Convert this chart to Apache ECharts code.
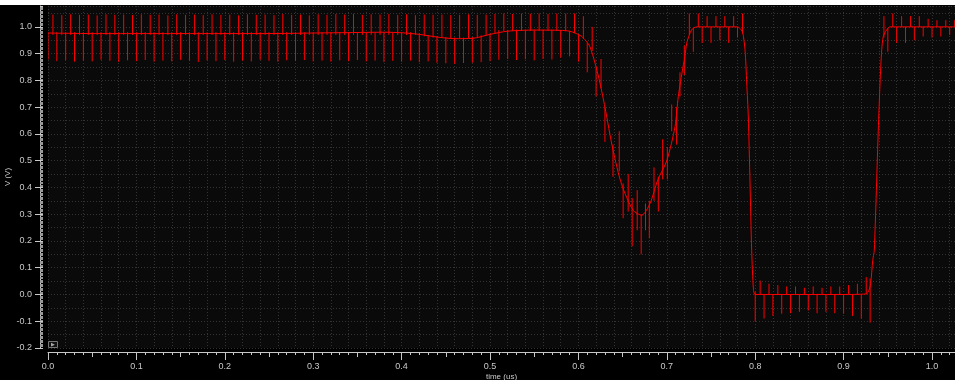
<!DOCTYPE html>
<html>
<head>
<meta charset="utf-8">
<script src="https://cdn.jsdelivr.net/npm/echarts@6/dist/echarts.min.js"></script>
<style>
html,body{margin:0;padding:0;background:#000;}
#chart{width:955px;height:380px;}
</style>
</head>
<body>
<div id="chart"></div>
<script>
// ---- data ----
const xTickLabels = ['0.0','0.1','0.2','0.3','0.4','0.5','0.6','0.7','0.8','0.9','1.0'];
const yTickLabels = ['-0.2','-0.1','0.0','0.1','0.2','0.3','0.4','0.5','0.6','0.7','0.8','0.9','1.0'];

// underlying waveform (time in us, volts)
const baseT = [0.000,0.050,0.100,0.150,0.200,0.250,0.300,0.350,0.380,0.400,0.420,0.440,0.460,0.480,0.500,0.520,0.550,0.580,0.590,0.596,0.602,0.6075,0.613,0.6188,0.6244,0.630,0.6391,0.649,0.6618,0.6716,0.681,0.690,0.700,0.7093,0.713,0.7183,0.7206,0.7225,0.728,0.7338,0.760,0.780,0.784,0.786,0.7885,0.7904,0.7922,0.7941,0.796,0.798,0.800,0.850,0.900,0.925,0.928,0.9306,0.9329,0.9347,0.9392,0.9412,0.9431,0.9449,0.9487,0.9525,1.000,1.026];
const baseV = [0.977,0.975,0.975,0.975,0.975,0.975,0.977,0.979,0.980,0.978,0.972,0.962,0.956,0.957,0.972,0.984,0.988,0.987,0.984,0.977,0.968,0.952,0.926,0.865,0.790,0.700,0.540,0.410,0.315,0.296,0.340,0.430,0.500,0.627,0.740,0.850,0.889,0.939,0.989,1.000,1.000,1.000,0.990,0.977,0.914,0.790,0.664,0.420,0.165,0.020,0.000,0.000,0.000,0.002,0.010,0.040,0.127,0.165,0.614,0.790,0.914,0.964,0.989,1.000,1.000,1.000];

// downward glitches: [time, low, high]
const downSpikes = [
[0.00,0.878,0.98],[0.01,0.872,0.98],[0.02,0.876,0.98],[0.03,0.870,0.98],[0.04,0.874,0.98],[0.05,0.871,0.98],[0.06,0.877,0.98],[0.07,0.873,0.98],[0.08,0.869,0.98],[0.09,0.875,0.98],
[0.10,0.872,0.98],[0.11,0.876,0.98],[0.12,0.870,0.98],[0.13,0.874,0.98],[0.14,0.871,0.98],[0.15,0.877,0.98],[0.16,0.873,0.98],[0.17,0.869,0.98],[0.18,0.875,0.98],[0.19,0.872,0.98],
[0.20,0.876,0.98],[0.21,0.870,0.98],[0.22,0.874,0.98],[0.23,0.871,0.98],[0.24,0.877,0.98],[0.25,0.873,0.98],[0.26,0.870,0.98],[0.27,0.875,0.98],[0.28,0.872,0.98],[0.29,0.876,0.98],
[0.30,0.871,0.98],[0.31,0.874,0.98],[0.32,0.870,0.98],[0.33,0.875,0.98],[0.34,0.872,0.98],[0.35,0.876,0.98],[0.36,0.871,0.98],[0.37,0.874,0.98],[0.38,0.869,0.98],[0.39,0.873,0.98],
[0.40,0.870,0.98],[0.41,0.874,0.98],[0.42,0.868,0.975],[0.43,0.871,0.97],[0.44,0.866,0.965],[0.45,0.864,0.962],[0.46,0.862,0.96],[0.47,0.865,0.96],[0.48,0.866,0.962],[0.49,0.868,0.968],
[0.50,0.872,0.975],[0.51,0.877,0.988],[0.52,0.880,0.988],[0.53,0.876,0.99],[0.54,0.879,0.99],[0.55,0.875,0.99],[0.56,0.880,0.99],[0.57,0.878,0.99],[0.58,0.885,0.988],[0.59,0.890,0.985],
[0.60,0.870,0.97],[0.61,0.830,0.94],[0.62,0.740,0.85],[0.63,0.570,0.70],
[0.73,0.907,0.995],[0.74,0.940,1.0],[0.75,0.940,1.0],[0.76,0.950,1.0],[0.77,0.940,1.0],[0.78,0.960,1.0],
[0.80,-0.100,0.01],[0.81,-0.090,0.0],[0.82,-0.080,0.0],[0.83,-0.072,0.0],[0.84,-0.070,0.0],[0.85,-0.065,0.0],[0.86,-0.060,0.0],[0.87,-0.070,0.0],[0.88,-0.065,0.0],[0.89,-0.070,0.0],
[0.90,-0.072,0.0],[0.91,-0.080,0.0],[0.92,-0.090,0.0],[0.93,-0.105,0.06],
[0.95,0.907,0.995],[0.96,0.940,1.0],[0.97,0.940,1.0],[0.98,0.950,1.0],[0.99,0.964,1.0],[1.00,0.960,1.0],[1.01,0.964,1.0],[1.02,0.970,1.0]
];

// upward glitches: [time, low, high]
const upSpikes = [
[0.0056,0.97,1.046],[0.0156,0.97,1.044],[0.0256,0.97,1.047],[0.0356,0.97,1.045],[0.0456,0.97,1.046],[0.0556,0.97,1.043],[0.0656,0.97,1.047],[0.0756,0.97,1.045],[0.0856,0.97,1.046],[0.0956,0.97,1.044],
[0.1056,0.97,1.047],[0.1156,0.97,1.045],[0.1256,0.97,1.046],[0.1356,0.97,1.043],[0.1456,0.97,1.047],[0.1556,0.97,1.045],[0.1656,0.97,1.046],[0.1756,0.97,1.044],[0.1856,0.97,1.047],[0.1956,0.97,1.045],
[0.2056,0.97,1.046],[0.2156,0.97,1.043],[0.2256,0.97,1.047],[0.2356,0.97,1.045],[0.2456,0.97,1.046],[0.2556,0.97,1.044],[0.2656,0.97,1.048],[0.2756,0.97,1.045],[0.2856,0.97,1.046],[0.2956,0.97,1.043],
[0.3056,0.97,1.047],[0.3156,0.97,1.045],[0.3256,0.97,1.048],[0.3356,0.97,1.046],[0.3456,0.97,1.049],[0.3556,0.97,1.045],[0.3656,0.97,1.047],[0.3756,0.97,1.046],[0.3856,0.97,1.048],[0.3956,0.97,1.045],
[0.4056,0.97,1.047],[0.4156,0.97,1.044],[0.4256,0.965,1.046],[0.4356,0.96,1.045],[0.4456,0.96,1.046],[0.4556,0.955,1.044],[0.4656,0.955,1.045],[0.4756,0.957,1.047],[0.4856,0.96,1.045],[0.4956,0.968,1.046],
[0.5056,0.975,1.048],[0.5156,0.985,1.050],[0.5256,0.985,1.048],[0.5356,0.985,1.050],[0.5456,0.985,1.049],[0.5556,0.985,1.050],[0.5656,0.985,1.048],[0.5756,0.985,1.050],[0.5856,0.984,1.050],[0.5956,0.977,1.050],
[0.6056,0.955,1.040],[0.6156,0.910,1.000],[0.6256,0.770,0.880],
[0.7255,0.970,1.050],[0.7356,1.0,1.050],[0.7456,1.0,1.040],[0.7556,1.0,1.040],[0.7656,1.0,1.040],[0.7756,1.0,1.040],[0.7856,0.975,1.050],
[0.8056,0.0,0.052],[0.8156,0.0,0.040],[0.8256,0.0,0.035],[0.8356,0.0,0.030],[0.8456,0.0,0.030],[0.8556,0.0,0.025],[0.8656,0.0,0.030],[0.8756,0.0,0.025],[0.8856,0.0,0.030],[0.8956,0.0,0.030],
[0.9056,0.0,0.035],[0.9156,0.0,0.040],[0.9256,0.0,0.065],
[0.9456,0.960,1.040],[0.9556,1.0,1.050],[0.9656,1.0,1.040],[0.9756,1.0,1.040],[0.9856,1.0,1.040],[0.9956,1.0,1.030],[1.0056,1.0,1.025],[1.0156,1.0,1.025],[1.0256,1.0,1.025]
];

// irregular glitches during the dip: [time, low, high]
const dipSpikes = [
[0.6391,0.44,0.56],[0.6462,0.46,0.61],[0.6506,0.285,0.415],[0.6563,0.31,0.45],[0.6608,0.18,0.36],[0.6665,0.24,0.39],[0.6710,0.15,0.30],[0.6759,0.24,0.34],[0.6802,0.21,0.35],
[0.6855,0.35,0.475],[0.6904,0.31,0.44],[0.6953,0.43,0.58],[0.7006,0.43,0.55],[0.7055,0.61,0.71],[0.7111,0.56,0.70],[0.7149,0.74,0.83],[0.7198,0.82,0.93]
];

// ---- chart ----
const chart = echarts.init(document.getElementById('chart'), null, {renderer:'canvas'});
const X_MIN = 0, X_MAX = 1.026, Y_MIN = -0.2, Y_MAX = 1.078;
const FONT = 'Liberation Sans, Arial, sans-serif';
const RED = '#ff0000';
const gridColor = '#333333';
const axisColor = '#c8c8c8';

function spikeItem(params, api) {
  const p1 = api.coord([api.value(0), api.value(1)]);
  const p2 = api.coord([api.value(0), api.value(2)]);
  return {
    type: 'line',
    shape: {x1: p1[0], y1: p1[1], x2: p2[0], y2: p2[1]},
    style: {stroke: RED, lineWidth: 1}
  };
}

const fmtX = v => {
  const i = Math.round(v * 10);
  return Math.abs(v * 10 - i) < 1e-6 ? xTickLabels[i] : '';
};
const fmtY = v => {
  const i = Math.round(v * 10) + 2;
  return Math.abs(v * 10 + 2 - i) < 1e-6 && yTickLabels[i] !== undefined ? yTickLabels[i] : '';
};

const option = {
  backgroundColor: '#000',
  animation: false,
  grid: {left: 48, right: 0, top: 6, bottom: 32, show: true, backgroundColor: '#0a0a0a', borderWidth: 0, containLabel: false, outerBoundsMode: 'none'},
  graphic: [
    {type: 'rect', left: 0, top: 0, shape: {width: 955, height: 5}, style: {fill: '#ffffff'}, z: 100},
    {type: 'rect', shape: {x: 48.5, y: 341.5, width: 9, height: 6}, style: {fill: '#111', stroke: '#777', lineWidth: 1}, z: 100},
    {type: 'text', x: 51, y: 342, style: {text: '▶', fill: '#aaa', fontSize: 5, fontFamily: FONT}, z: 101}
  ],
  xAxis: [
    {
      type: 'value', min: X_MIN, max: X_MAX, interval: 0.1, position: 'bottom', offset: 4,
      name: 'time (us)', nameLocation: 'middle', nameGap: 21, nameMoveOverlap: false,
      nameTextStyle: {color: axisColor, fontSize: 8, fontFamily: FONT},
      axisLine: {show: true, onZero: false, lineStyle: {color: axisColor, width: 1}},
      axisTick: {show: true, length: 8, lineStyle: {color: axisColor}},
      minorTick: {show: true, splitNumber: 10, length: 3, lineStyle: {color: axisColor}},
      axisLabel: {show: true, color: axisColor, fontSize: 9, fontFamily: FONT, margin: 10, formatter: fmtX, showMaxLabel: false},
      splitLine: {show: false}
    },
    {
      type: 'value', min: X_MIN, max: X_MAX, interval: 0.05, position: 'bottom', offset: 4,
      axisLine: {show: false, onZero: false},
      axisTick: {show: true, length: 5, lineStyle: {color: axisColor}},
      axisLabel: {show: false}, splitLine: {show: false}
    },
    {
      type: 'value', min: X_MIN, max: X_MAX, interval: 0.02, position: 'bottom',
      axisLine: {show: false, onZero: false}, axisTick: {show: false}, axisLabel: {show: false},
      splitLine: {show: true, lineStyle: {color: gridColor, type: [1, 2], width: 1}}
    }
  ],
  yAxis: [
    {
      type: 'value', min: Y_MIN, max: Y_MAX, interval: 0.1, position: 'left', offset: 8,
      name: 'V (V)', nameLocation: 'middle', nameGap: 28, nameRotate: 90, nameMoveOverlap: false,
      nameTextStyle: {color: axisColor, fontSize: 8, fontFamily: FONT},
      axisLine: {show: true, onZero: false, lineStyle: {color: axisColor, width: 1}},
      axisTick: {show: true, length: 5, lineStyle: {color: axisColor}},
      axisLabel: {show: true, color: axisColor, fontSize: 9, fontFamily: FONT, margin: 8, formatter: fmtY, showMaxLabel: false},
      splitLine: {show: false}
    },
    {
      type: 'value', min: Y_MIN, max: Y_MAX, interval: 0.1, position: 'left', offset: 8,
      axisLine: {show: false, onZero: false},
      axisTick: {show: true, inside: true, length: 3, lineStyle: {color: axisColor}},
      minorTick: {show: true, splitNumber: 20, length: 3, lineStyle: {color: '#999'}},
      axisLabel: {show: false}, splitLine: {show: false}
    },
    {
      type: 'value', min: Y_MIN, max: Y_MAX, interval: 0.05, position: 'left',
      axisLine: {show: false, onZero: false}, axisTick: {show: false}, axisLabel: {show: false},
      splitLine: {show: true, lineStyle: {color: gridColor, type: [1, 2], width: 1}}
    }
  ],
  series: [
    {
      type: 'line', xAxisIndex: 0, yAxisIndex: 0,
      data: baseT.map((t, i) => [t, baseV[i]]),
      smooth: 0.25, showSymbol: false, symbol: 'none',
      lineStyle: {color: RED, width: 1}, clip: true, z: 3
    },
    {type: 'custom', xAxisIndex: 0, yAxisIndex: 0, renderItem: spikeItem, data: downSpikes, encode: {x: 0, y: [1, 2]}, clip: true, z: 4},
    {type: 'custom', xAxisIndex: 0, yAxisIndex: 0, renderItem: spikeItem, data: upSpikes, encode: {x: 0, y: [1, 2]}, clip: true, z: 4},
    {type: 'custom', xAxisIndex: 0, yAxisIndex: 0, renderItem: spikeItem, data: dipSpikes, encode: {x: 0, y: [1, 2]}, clip: true, z: 4}
  ]
};
chart.setOption(option);
</script>
</body>
</html>
